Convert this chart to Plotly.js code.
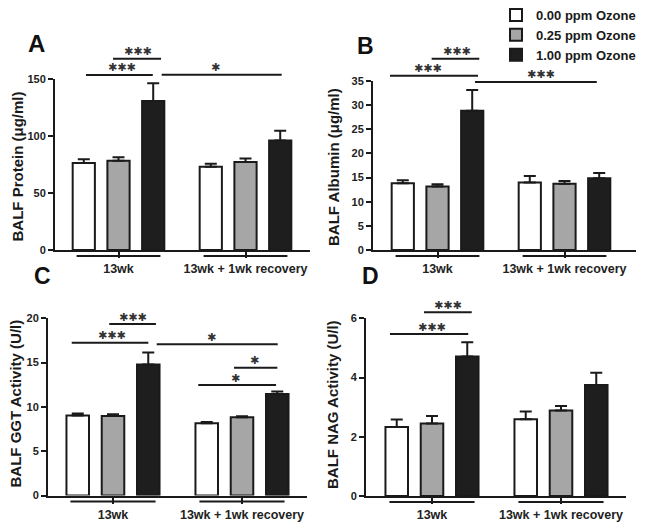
<!DOCTYPE html>
<html>
<head>
<meta charset="utf-8">
<script src="https://cdn.plot.ly/plotly-3.0.1.min.js"></script>
<style>
html, body { margin: 0; padding: 0; background: #ffffff; }
#chart { width: 645px; height: 523px; }
</style>
</head>
<body>
<div id="chart"></div>
<script>
// ---------------- DATA ----------------
const groups = ['13wk', '13wk + 1wk recovery'];
const seriesNames = ['0.00 ppm Ozone', '0.25 ppm Ozone', '1.00 ppm Ozone'];

// Panel A: BALF Protein (μg/ml) — rows = series, cols = groups
const proteinMean = [[76.4, 73.0], [78.2, 77.3], [130.7, 96.0]];
const proteinErr  = [[3.3, 2.6], [3.2, 2.9], [15.5, 8.5]];

// Panel B: BALF Albumin (μg/ml)
const albuminMean = [[13.84, 13.97], [13.15, 13.7], [28.84, 14.86]];
const albuminErr  = [[0.61, 1.37], [0.48, 0.6], [4.31, 1.1]];

// Panel C: BALF GGT Activity (U/l)
const ggtMean = [[9.02, 8.15], [8.98, 8.83], [14.79, 11.47]];
const ggtErr  = [[0.23, 0.15], [0.19, 0.11], [1.36, 0.27]];

// Panel D: BALF NAG Activity (U/l)
const nagMean = [[2.33, 2.59], [2.45, 2.89], [4.71, 3.75]];
const nagErr  = [[0.25, 0.26], [0.25, 0.15], [0.48, 0.41]];

const yTitles = ['BALF Protein (μg/ml)', 'BALF Albumin (μg/ml)', 'BALF GGT Activity (U/l)', 'BALF NAG Activity (U/l)'];
const yRanges = [[0, 150], [0, 35], [0, 20], [0, 6]];
const yDticks = [50, 5, 5, 2];
const panelLetters = ['A', 'B', 'C', 'D'];

// ---------------- LAYOUT GEOMETRY (pixels) ----------------
const W = 645, H = 523;
const panels = [
  {left: 55,  right: 310, top: 79,    bottom: 250,   c0: 118.5, cw: 127, letter: [36.5, 43.5], lsize: 24, title: [16.5, 167]},
  {left: 373, right: 636, top: 81,    bottom: 250,   c0: 437.5, cw: 127, letter: [365, 45.5],  lsize: 23, title: [333, 167]},
  {left: 48,  right: 307, top: 318.3, bottom: 495.5, c0: 113,   cw: 129, letter: [42, 275.5],  lsize: 23, title: [14.5, 404]},
  {left: 366, right: 626, top: 318.3, bottom: 496,   c0: 432,   cw: 129, letter: [370, 275.5], lsize: 23, title: [332, 405]}
];
// significance brackets: [x0, x1 (category units), line y px, number of stars, label x]
const STAR = '\u2731';
const brackets = [
  [[-0.256, 0.270, 75, 3, 0.028], [-0.043, 0.335, 58.7, 3, 0.15], [0.340, 1.285, 74.7, 1, 0.76]],
  [[-0.374, 0.319, 75.7, 3, -0.075], [-0.046, 0.329, 58.7, 3, 0.151], [0.295, 1.254, 82, 3, 0.815]],
  [[-0.029, 0.333, 324, 3, 0.157], [-0.32, 0.274, 342.7, 3, -0.01], [0.339, 1.277, 344.3, 1, 0.765],
   [0.938, 1.274, 367.7, 1, 1.10], [0.661, 1.264, 385, 1, 0.953]],
  [[-0.062, 0.308, 312.3, 3, 0.124], [-0.326, 0.281, 334, 3, 0]]
];

const means = [proteinMean, albuminMean, ggtMean, nagMean];
const errs = [proteinErr, albuminErr, ggtErr, nagErr];
const fills = ['#ffffff', '#a6a6a6', '#1e1e1e'];
const ink = '#1a1a1a';
const fontFam = 'Liberation Sans, Arial, Helvetica, sans-serif';

const traces = [];
const layout = {
  width: W, height: H,
  margin: {l: 0, r: 0, t: 0, b: 0},
  paper_bgcolor: '#ffffff', plot_bgcolor: 'rgba(0,0,0,0)',
  barmode: 'group', bargap: 0.18, bargroupgap: 0.36,
  font: {family: fontFam, color: ink},
  showlegend: true,
  legend: {
    x: 496 / W, xanchor: 'left', y: 1, yanchor: 'top',
    bgcolor: 'rgba(0,0,0,0)', borderwidth: 0,
    font: {family: fontFam, size: 13, weight: 'bold', color: ink},
    traceorder: 'normal', itemclick: false
  },
  shapes: [], annotations: []
};

panels.forEach((p, i) => {
  const n = i + 1;
  const xa = n === 1 ? 'x' : 'x' + n;
  const ya = n === 1 ? 'y' : 'y' + n;
  const xKey = n === 1 ? 'xaxis' : 'xaxis' + n;
  const yKey = n === 1 ? 'yaxis' : 'yaxis' + n;

  layout[xKey] = {
    domain: [p.left / W, p.right / W], anchor: ya, type: 'category',
    range: [(p.left - p.c0) / p.cw, (p.right - p.c0) / p.cw],
    showline: true, linewidth: 2, linecolor: ink,
    ticks: 'outside', ticklen: 6, tickwidth: 2, tickcolor: ink,
    showgrid: false, zeroline: false, fixedrange: true,
    tickfont: {family: fontFam, size: 12.5, weight: 'bold', color: '#222'}
  };
  layout[yKey] = {
    domain: [1 - p.bottom / H, 1 - p.top / H], anchor: xa,
    range: yRanges[i], dtick: yDticks[i], tick0: 0,
    showline: true, linewidth: 2, linecolor: ink,
    ticks: 'outside', ticklen: 5, tickwidth: 2, tickcolor: ink,
    showgrid: false, zeroline: false, fixedrange: true,
    tickfont: {family: fontFam, size: 11, weight: 'bold', color: '#222'}
  };

  for (let s = 0; s < 3; s++) {
    traces.push({
      type: 'bar', x: groups, y: means[i][s],
      name: seriesNames[s], legendgroup: 's' + s, showlegend: i === 0,
      xaxis: xa, yaxis: ya,
      marker: {color: fills[s], line: {color: ink, width: 2}},
      error_y: {type: 'data', symmetric: false, array: errs[i][s],
                arrayminus: errs[i][s].map(() => 0),
                color: ink, thickness: 2, width: 6},
      hoverinfo: 'skip'
    });
  }

  const span = p.bottom - p.top;
  const toDom = (ypx) => (p.bottom - ypx) / span;

  // group underlines below x axis
  groups.forEach((g, gi) => {
    layout.shapes.push({
      type: 'line', xref: xa, yref: ya + ' domain',
      x0: gi - 0.33, x1: gi + 0.33, y0: -6 / span, y1: -6 / span,
      line: {color: ink, width: 2}
    });
  });

  // significance brackets
  brackets[i].forEach(b => {
    layout.shapes.push({
      type: 'line', xref: xa, yref: ya + ' domain',
      x0: b[0], x1: b[1], y0: toDom(b[2]), y1: toDom(b[2]),
      line: {color: ink, width: 2}
    });
    layout.annotations.push({
      xref: xa, yref: ya + ' domain', x: b[4], y: toDom(b[2] - 7),
      text: STAR.repeat(b[3]), showarrow: false, xanchor: 'center', yanchor: 'middle',
      borderpad: 0,
      font: {family: 'DejaVu Sans, sans-serif', size: 11, color: '#333'}
    });
  });

  // y-axis title (rotated)
  layout.annotations.push({
    xref: 'paper', yref: 'paper', x: p.title[0] / W, y: 1 - p.title[1] / H,
    text: yTitles[i], textangle: -90, showarrow: false, xanchor: 'center', yanchor: 'middle',
    font: {family: fontFam, size: 15, weight: 'bold', color: ink}
  });

  // panel letter
  layout.annotations.push({
    xref: 'paper', yref: 'paper', x: p.letter[0] / W, y: 1 - p.letter[1] / H,
    text: panelLetters[i], showarrow: false, xanchor: 'center', yanchor: 'middle',
    font: {family: fontFam, size: p.lsize, weight: 'bold', color: '#111'}
  });
});

Plotly.newPlot('chart', traces, layout, {displayModeBar: false, staticPlot: true});
</script>
</body>
</html>
